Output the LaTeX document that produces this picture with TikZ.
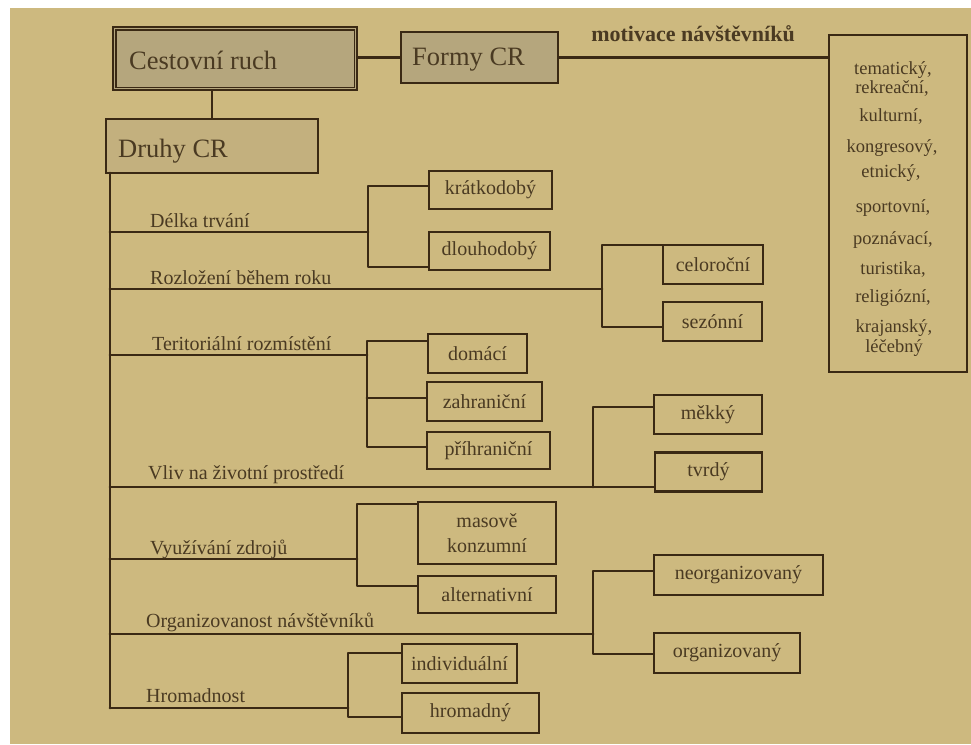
\documentclass[tikz,border=0pt]{standalone}
\usepackage{fontspec}
\setmainfont{Liberation Serif}
\definecolor{bg}{HTML}{CDB97F}
\definecolor{bgd}{HTML}{B5A67D}
\definecolor{bgm}{HTML}{C3B07E}
\definecolor{ln}{HTML}{3A2914}
\definecolor{tx}{HTML}{4A3A22}
\tikzset{
  bx/.style={draw=ln, line width=2.6pt, fill=bg, text=tx, inner sep=0pt, align=center,
    font=\fontsize{20}{22}\selectfont},
  bigbox/.style={draw=ln, line width=2.6pt, inner sep=0pt},
  bigtxt/.style={text=tx, anchor=base west, inner sep=0pt, font=\fontsize{26.5}{28}\selectfont},
  lbl/.style={text=tx, anchor=base west, inner sep=0pt, font=\fontsize{20}{22}\selectfont},
  rtxt/.style={text=tx, anchor=base, inner sep=0pt, font=\fontsize{18.5}{20}\selectfont},
  cn/.style={draw=ln, line width=2.8pt, line cap=round, line join=round}
}
\begin{document}
\begin{tikzpicture}[x=1pt,y=-1pt]
\useasboundingbox (0,0) rectangle (971,744);
\fill[white] (0,0) rectangle (971,744);
\fill[bg] (10,8) rectangle (971,744);

% top boxes
\node[bigbox, fill=bgd, minimum width=244pt, minimum height=63pt] (cr) at (235,58.5) {};
\draw[ln, line width=1.6pt] ([shift={(4,4)}]cr.north west) rectangle ([shift={(-4,-4)}]cr.south east);
\node[bigtxt] (crt) at (129,69) {Cestovní ruch};

\node[bigbox, fill=bgd, minimum width=157pt, minimum height=51pt] (fc) at (479.5,57.5) {};
\node[bigtxt] (fct) at (412,65) {Formy CR};

\node[bigbox, fill=bgm, minimum width=212pt, minimum height=54pt] (dr) at (212,146) {};
\node[bigtxt] (drt) at (118,157) {Druhy CR};

% right box
\node[bigbox, fill=bg, minimum width=138pt, minimum height=337pt] (rb) at (898,203.5) {};
\node[text=tx, inner sep=0pt, font=\bfseries\fontsize{22}{24}\selectfont] (mot) at (693,34) {motivace návštěvníků};
\node[rtxt] (r1) at (893,74) {tematický,};
\node[rtxt] (r2) at (892,93) {rekreační,};
\node[rtxt] (r3) at (891,121) {kulturní,};
\node[rtxt] (r4) at (892,152) {kongresový,};
\node[rtxt] (r5) at (891,177) {etnický,};
\node[rtxt] (r6) at (893,212) {sportovní,};
\node[rtxt] (r7) at (893,244) {poznávací,};
\node[rtxt] (r8) at (893,274) {turistika,};
\node[rtxt] (r9) at (893,302) {religiózní,};
\node[rtxt] (r10) at (894,332) {krajanský,};
\node[rtxt] (r11) at (894,352) {léčebný};

\draw[cn] (fc.west -| cr.east) -- (fc.west);
\draw[cn] (fc.east) -- (rb.west |- fc.east);
\draw[cn] (dr.north) -- (dr.north |- cr.south);

% main vertical
\coordinate (m0) at (110,173);
\coordinate (m7) at (110,708);
\draw[cn] (m0) -- (m7);

% group 1
\node[bx, minimum width=123pt, minimum height=38pt] (kr) at (490.5,190) {krátkodobý};
\node[bx, minimum width=121pt, minimum height=38pt] (dl) at (489.5,251) {dlouhodobý};
\coordinate (k1) at (368,232);
\coordinate (t1) at (368,186);
\coordinate (b1) at (368,267);
\draw[cn] (m0 |- k1) -- (k1);
\draw[cn] (kr.west |- t1) -- (t1) -- (b1) -- (dl.west |- b1);
\node[lbl] (l1) at (150,227) {Délka trvání};

% group 2
\node[bx, minimum width=100pt, minimum height=39pt] (ce) at (713,264.5) {celoroční};
\node[bx, minimum width=99pt, minimum height=39pt] (se) at (712.5,321.5) {sezónní};
\coordinate (k2) at (602,289);
\coordinate (t2) at (602,245);
\coordinate (b2) at (602,327);
\draw[cn] (m0 |- k2) -- (k2);
\draw[cn] (ce.west |- t2) -- (t2) -- (b2) -- (se.west |- b2);
\node[lbl] (l2) at (150,284) {Rozložení během roku};

% group 3
\node[bx, minimum width=99pt, minimum height=39pt] (do) at (477.5,353.5) {domácí};
\node[bx, minimum width=115pt, minimum height=39pt] (za) at (484.5,401.5) {zahraniční};
\node[bx, minimum width=123pt, minimum height=37pt] (pr) at (488.5,450.5) {příhraniční};
\coordinate (k3) at (367,355);
\coordinate (t3) at (367,341);
\coordinate (c3) at (367,398);
\coordinate (b3) at (367,447);
\draw[cn] (m0 |- k3) -- (k3);
\draw[cn] (do.west |- t3) -- (t3) -- (b3) -- (pr.west |- b3);
\draw[cn] (c3) -- (za.west |- c3);
\node[lbl] (l3) at (152,350) {Teritoriální rozmístění};

% group 4
\node[bx, minimum width=108pt, minimum height=39pt] (me) at (708,414.5) {měkký};
\node[bx, minimum width=107pt, minimum height=39pt] (tv) at (708.5,472) {tvrdý};
\coordinate (k4) at (593,487);
\coordinate (t4) at (593,407);
\draw[cn] (m0 |- k4) -- (k4) -- (tv.west |- k4);
\draw[cn] (me.west |- t4) -- (t4) -- (k4);
\node[lbl] (l4) at (148,479) {Vliv na životní prostředí};

% group 5
\node[bx, minimum width=138pt, minimum height=62pt, font=\fontsize{20}{25}\selectfont] (ma) at (487,533) {masově\\konzumní};
\node[bx, minimum width=138pt, minimum height=37pt] (al) at (487,594.5) {alternativní};
\coordinate (k5) at (357,559);
\coordinate (t5) at (357,504);
\coordinate (b5) at (357,586);
\draw[cn] (m0 |- k5) -- (k5);
\draw[cn] (ma.west |- t5) -- (t5) -- (b5) -- (al.west |- b5);
\node[lbl] (l5) at (150,554) {Využívání zdrojů};

% group 6
\node[bx, minimum width=169pt, minimum height=40pt] (ne) at (738.5,575) {neorganizovaný};
\node[bx, minimum width=146pt, minimum height=40pt] (og) at (727,653) {organizovaný};
\coordinate (k6) at (593,634);
\coordinate (t6) at (593,571);
\coordinate (b6) at (593,654);
\draw[cn] (m0 |- k6) -- (k6);
\draw[cn] (ne.west |- t6) -- (t6) -- (b6) -- (og.west |- b6);
\node[lbl] (l6) at (146,627) {Organizovanost návštěvníků};

% group 7
\node[bx, minimum width=115pt, minimum height=39pt] (in) at (459.5,663.5) {individuální};
\node[bx, minimum width=137pt, minimum height=40pt] (hr) at (470.5,713) {hromadný};
\coordinate (k7) at (348,708);
\coordinate (t7) at (348,653);
\coordinate (b7) at (348,717);
\draw[cn] (m7) -- (k7);
\draw[cn] (in.west |- t7) -- (t7) -- (b7) -- (hr.west |- b7);
\node[lbl] (l7) at (146,702) {Hromadnost};
\end{tikzpicture}
\end{document}
